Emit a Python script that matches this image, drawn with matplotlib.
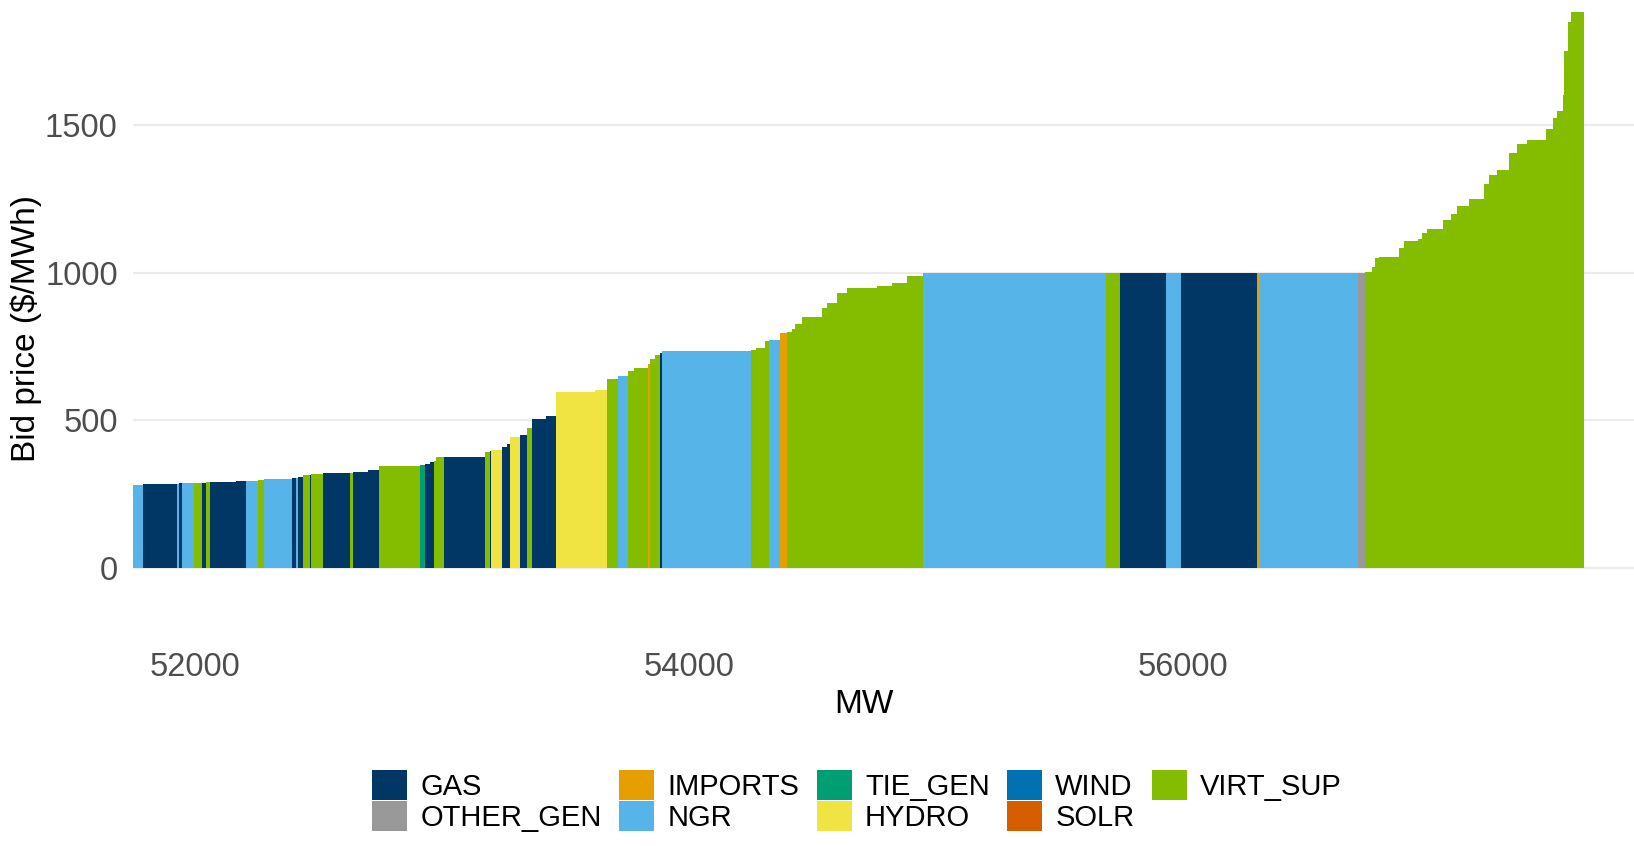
import matplotlib
matplotlib.use("Agg")
import matplotlib.pyplot as plt
from matplotlib.patches import Patch
import numpy as np

plt.rcParams['font.family'] = ['Liberation Sans', 'DejaVu Sans']

# supply stack: each block runs from the previous end to block_end (MW)
start_mw = 51748
block_end = [
    51788, 51928, 51934, 51948, 51996, 52026, 52042, 52061, 52164, 52167,
    52204, 52255, 52280, 52393, 52407, 52415, 52436, 52463, 52468, 52516,
    52625, 52638, 52700, 52743, 52911, 52931, 52950, 52968, 52976, 53008,
    53174, 53192, 53197, 53242, 53262, 53275, 53316, 53343, 53363, 53420,
    53462, 53620, 53667, 53710, 53752, 53775, 53835, 53842, 53862, 53883,
    53891, 54250, 54271, 54308, 54325, 54369, 54398, 54416, 54429, 54457,
    54537, 54558, 54598, 54639, 54760, 54820, 54882, 54946, 55689, 55745,
    55932, 55991, 56299, 56310, 56710, 56737, 56764, 56778, 56795, 56876,
    56895, 56953, 56967, 56987, 57054, 57084, 57108, 57159, 57219, 57240,
    57270, 57321, 57353, 57394, 57470, 57497, 57513, 57537, 57543, 57557,
    57570, 57622,
]
bid_price = [
    281, 283, 285, 286, 286, 288, 289, 290, 292, 293,
    294, 295, 297, 300, 303, 306, 309, 314, 316, 317,
    320, 323, 326, 332, 346, 347, 352, 358, 362, 374,
    374, 394, 396, 399, 408, 420, 444, 449, 475, 505,
    514, 595, 603, 641, 649, 666, 676, 690, 708, 720,
    728, 733, 737, 746, 769, 771, 797, 800, 810, 825,
    848, 881, 898, 932, 949, 955, 965, 988, 1000, 1000,
    1000, 1000, 1000, 1000, 1000, 1000, 1001, 1020, 1048, 1054,
    1082, 1108, 1115, 1135, 1149, 1177, 1200, 1224, 1248, 1301,
    1329, 1348, 1404, 1435, 1449, 1486, 1525, 1547, 1600, 1749,
    1847, 1883,
]
fuel = [
    'NGR', 'GAS', 'NGR', 'GAS', 'NGR', 'VIRT_SUP', 'GAS', 'VIRT_SUP', 'GAS', 'VIRT_SUP',
    'GAS', 'NGR', 'VIRT_SUP', 'NGR', 'GAS', 'NGR', 'GAS', 'VIRT_SUP', 'GAS', 'VIRT_SUP',
    'GAS', 'VIRT_SUP', 'GAS', 'GAS', 'VIRT_SUP', 'TIE_GEN', 'GAS', 'GAS', 'VIRT_SUP', 'VIRT_SUP',
    'GAS', 'VIRT_SUP', 'GAS', 'HYDRO', 'GAS', 'GAS', 'HYDRO', 'GAS', 'VIRT_SUP', 'GAS',
    'GAS', 'HYDRO', 'HYDRO', 'VIRT_SUP', 'NGR', 'VIRT_SUP', 'VIRT_SUP', 'IMPORTS', 'VIRT_SUP', 'VIRT_SUP',
    'GAS', 'NGR', 'VIRT_SUP', 'VIRT_SUP', 'VIRT_SUP', 'NGR', 'IMPORTS', 'VIRT_SUP', 'VIRT_SUP', 'VIRT_SUP',
    'VIRT_SUP', 'VIRT_SUP', 'VIRT_SUP', 'VIRT_SUP', 'VIRT_SUP', 'VIRT_SUP', 'VIRT_SUP', 'VIRT_SUP', 'NGR', 'VIRT_SUP',
    'GAS', 'NGR', 'GAS', 'IMPORTS', 'NGR', 'OTHER_GEN', 'VIRT_SUP', 'VIRT_SUP', 'VIRT_SUP', 'VIRT_SUP',
    'VIRT_SUP', 'VIRT_SUP', 'VIRT_SUP', 'VIRT_SUP', 'VIRT_SUP', 'VIRT_SUP', 'VIRT_SUP', 'VIRT_SUP', 'VIRT_SUP', 'VIRT_SUP',
    'VIRT_SUP', 'VIRT_SUP', 'VIRT_SUP', 'VIRT_SUP', 'VIRT_SUP', 'VIRT_SUP', 'VIRT_SUP', 'VIRT_SUP', 'VIRT_SUP', 'VIRT_SUP',
    'VIRT_SUP', 'VIRT_SUP',
]

# legend order (column-wise, like ggplot)
fuel_order = ['GAS', 'OTHER_GEN', 'IMPORTS', 'NGR', 'TIE_GEN', 'HYDRO', 'WIND', 'SOLR', 'VIRT_SUP']
fuel_colors = {
    'GAS': '#003764', 'OTHER_GEN': '#999999', 'IMPORTS': '#E69F00',
    'NGR': '#56B4E9', 'TIE_GEN': '#009E73', 'HYDRO': '#F0E442',
    'WIND': '#0072B2', 'SOLR': '#D55E00', 'VIRT_SUP': '#84BD00',
}

W, H = 1634, 846
fig = plt.figure(figsize=(W / 100, H / 100), dpi=100)
ax = fig.add_axes([133 / W, 1 - 645 / H, (W - 133) / W, 645 / H])

ends = np.array(block_end)
lefts = np.concatenate([[start_mw], ends[:-1]])
widths = ends - lefts
cols = [fuel_colors[f] for f in fuel]
# no antialiasing so neighbouring blocks meet without white seams
ax.bar(lefts, bid_price, width=widths, align='edge', color=cols,
       linewidth=0, antialiased=False)

ax.set_xlim(51748, 57826)
ax.set_ylim(-261, 1923)
ax.set_yticks([0, 500, 1000, 1500])
ax.set_xticks([52000, 54000, 56000])
ax.set_axisbelow(True)
ax.yaxis.grid(True, color='#EBEBEB', linewidth=1.6)
ax.xaxis.grid(False)
for s in ax.spines.values():
    s.set_visible(False)
ax.tick_params(axis='both', length=0, labelsize=23.5, labelcolor='#4D4D4D')
ax.tick_params(axis='y', pad=11)
ax.tick_params(axis='x', pad=5)

fig.text(26 / W, 1 - 328 / H, 'Bid price ($/MWh)', rotation=90,
         ha='center', va='center', fontsize=24, color='black')
fig.text(864 / W, 1 - 704 / H, 'MW', ha='center', va='center',
         fontsize=24, color='black')

handles = [Patch(facecolor=fuel_colors[f], edgecolor='none', label=f) for f in fuel_order]
fig.legend(handles=handles, ncol=5, loc='center',
           bbox_to_anchor=(857 / W, 1 - 801 / H), frameon=False, fontsize=21,
           handlelength=1.2, handleheight=1.2, labelspacing=0,
           columnspacing=0.6, handletextpad=0.45, borderpad=0)

fig.savefig('out.png', dpi=100)
